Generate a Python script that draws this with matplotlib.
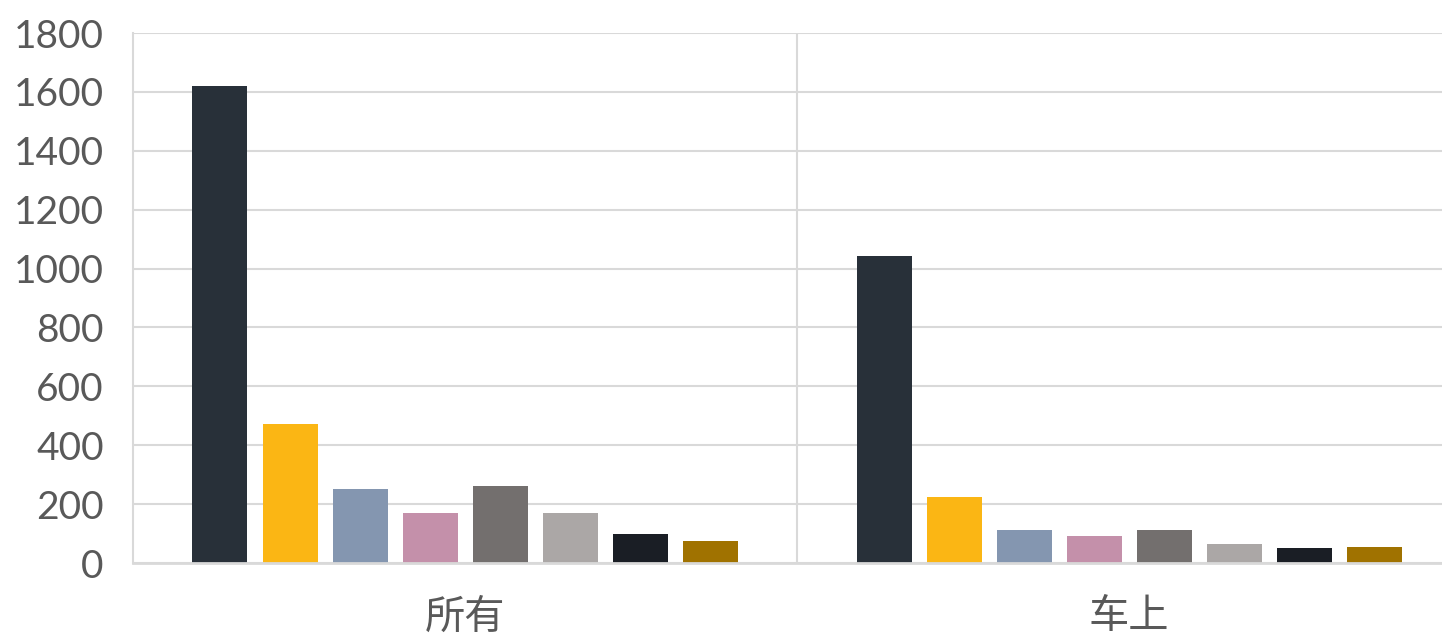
import matplotlib
matplotlib.use("Agg")
import matplotlib.pyplot as plt
import numpy as np

categories = ["所有", "车上"]
series_values = [
    [1620, 1043],
    [472, 224],
    [251, 112],
    [170, 92],
    [262, 112],
    [170, 65],
    [98, 51],
    [75, 54],
]
colors = ["#283039", "#FBB614", "#8496B0", "#C490AA", "#736F6E", "#ABA7A6", "#1A1E25", "#A07200"]
yticks = [0, 200, 400, 600, 800, 1000, 1200, 1400, 1600, 1800]

fig = plt.figure(figsize=(14.42, 6.38), dpi=100)
ax = fig.add_axes([133/1442, 75/638, 1328/1442, 530/638])

n = len(series_values)
step = 70/664
width = 55/664
x = np.arange(len(categories))
for i, vals in enumerate(series_values):
    off = (i - (n-1)/2) * step
    ax.bar(x + off, vals, width=width, color=colors[i], zorder=3)

ax.set_xlim(-0.5, len(categories) - 0.5)
ax.set_ylim(0, 1800)
ax.set_yticks(yticks)
ax.set_yticklabels([str(t) for t in yticks], family=["Lato", "DejaVu Sans"], fontsize=28,
                   fontweight="normal", color="#595959")
ax.set_xticks(x)
ax.set_xticklabels(categories, family=["Noto Sans CJK SC", "DejaVu Sans"], fontsize=29,
                   fontweight="light", color="#595959")
ax.tick_params(axis="y", length=0, pad=21)
ax.tick_params(axis="x", length=0, pad=24)
ax.grid(axis="y", color="#D9D9D9", linewidth=1.5, zorder=0)
for b in np.arange(0.5, len(categories) - 0.5, 1):
    ax.axvline(b, color="#D9D9D9", linewidth=1.5, zorder=0)
for s in ["top", "right"]:
    ax.spines[s].set_visible(False)
ax.spines["left"].set_color("#D9D9D9")
ax.spines["left"].set_linewidth(1.5)
ax.spines["bottom"].set_color("#D9D9D9")
ax.spines["bottom"].set_linewidth(2)
ax.spines["bottom"].set_zorder(4)

fig.savefig("out.png", dpi=100)
